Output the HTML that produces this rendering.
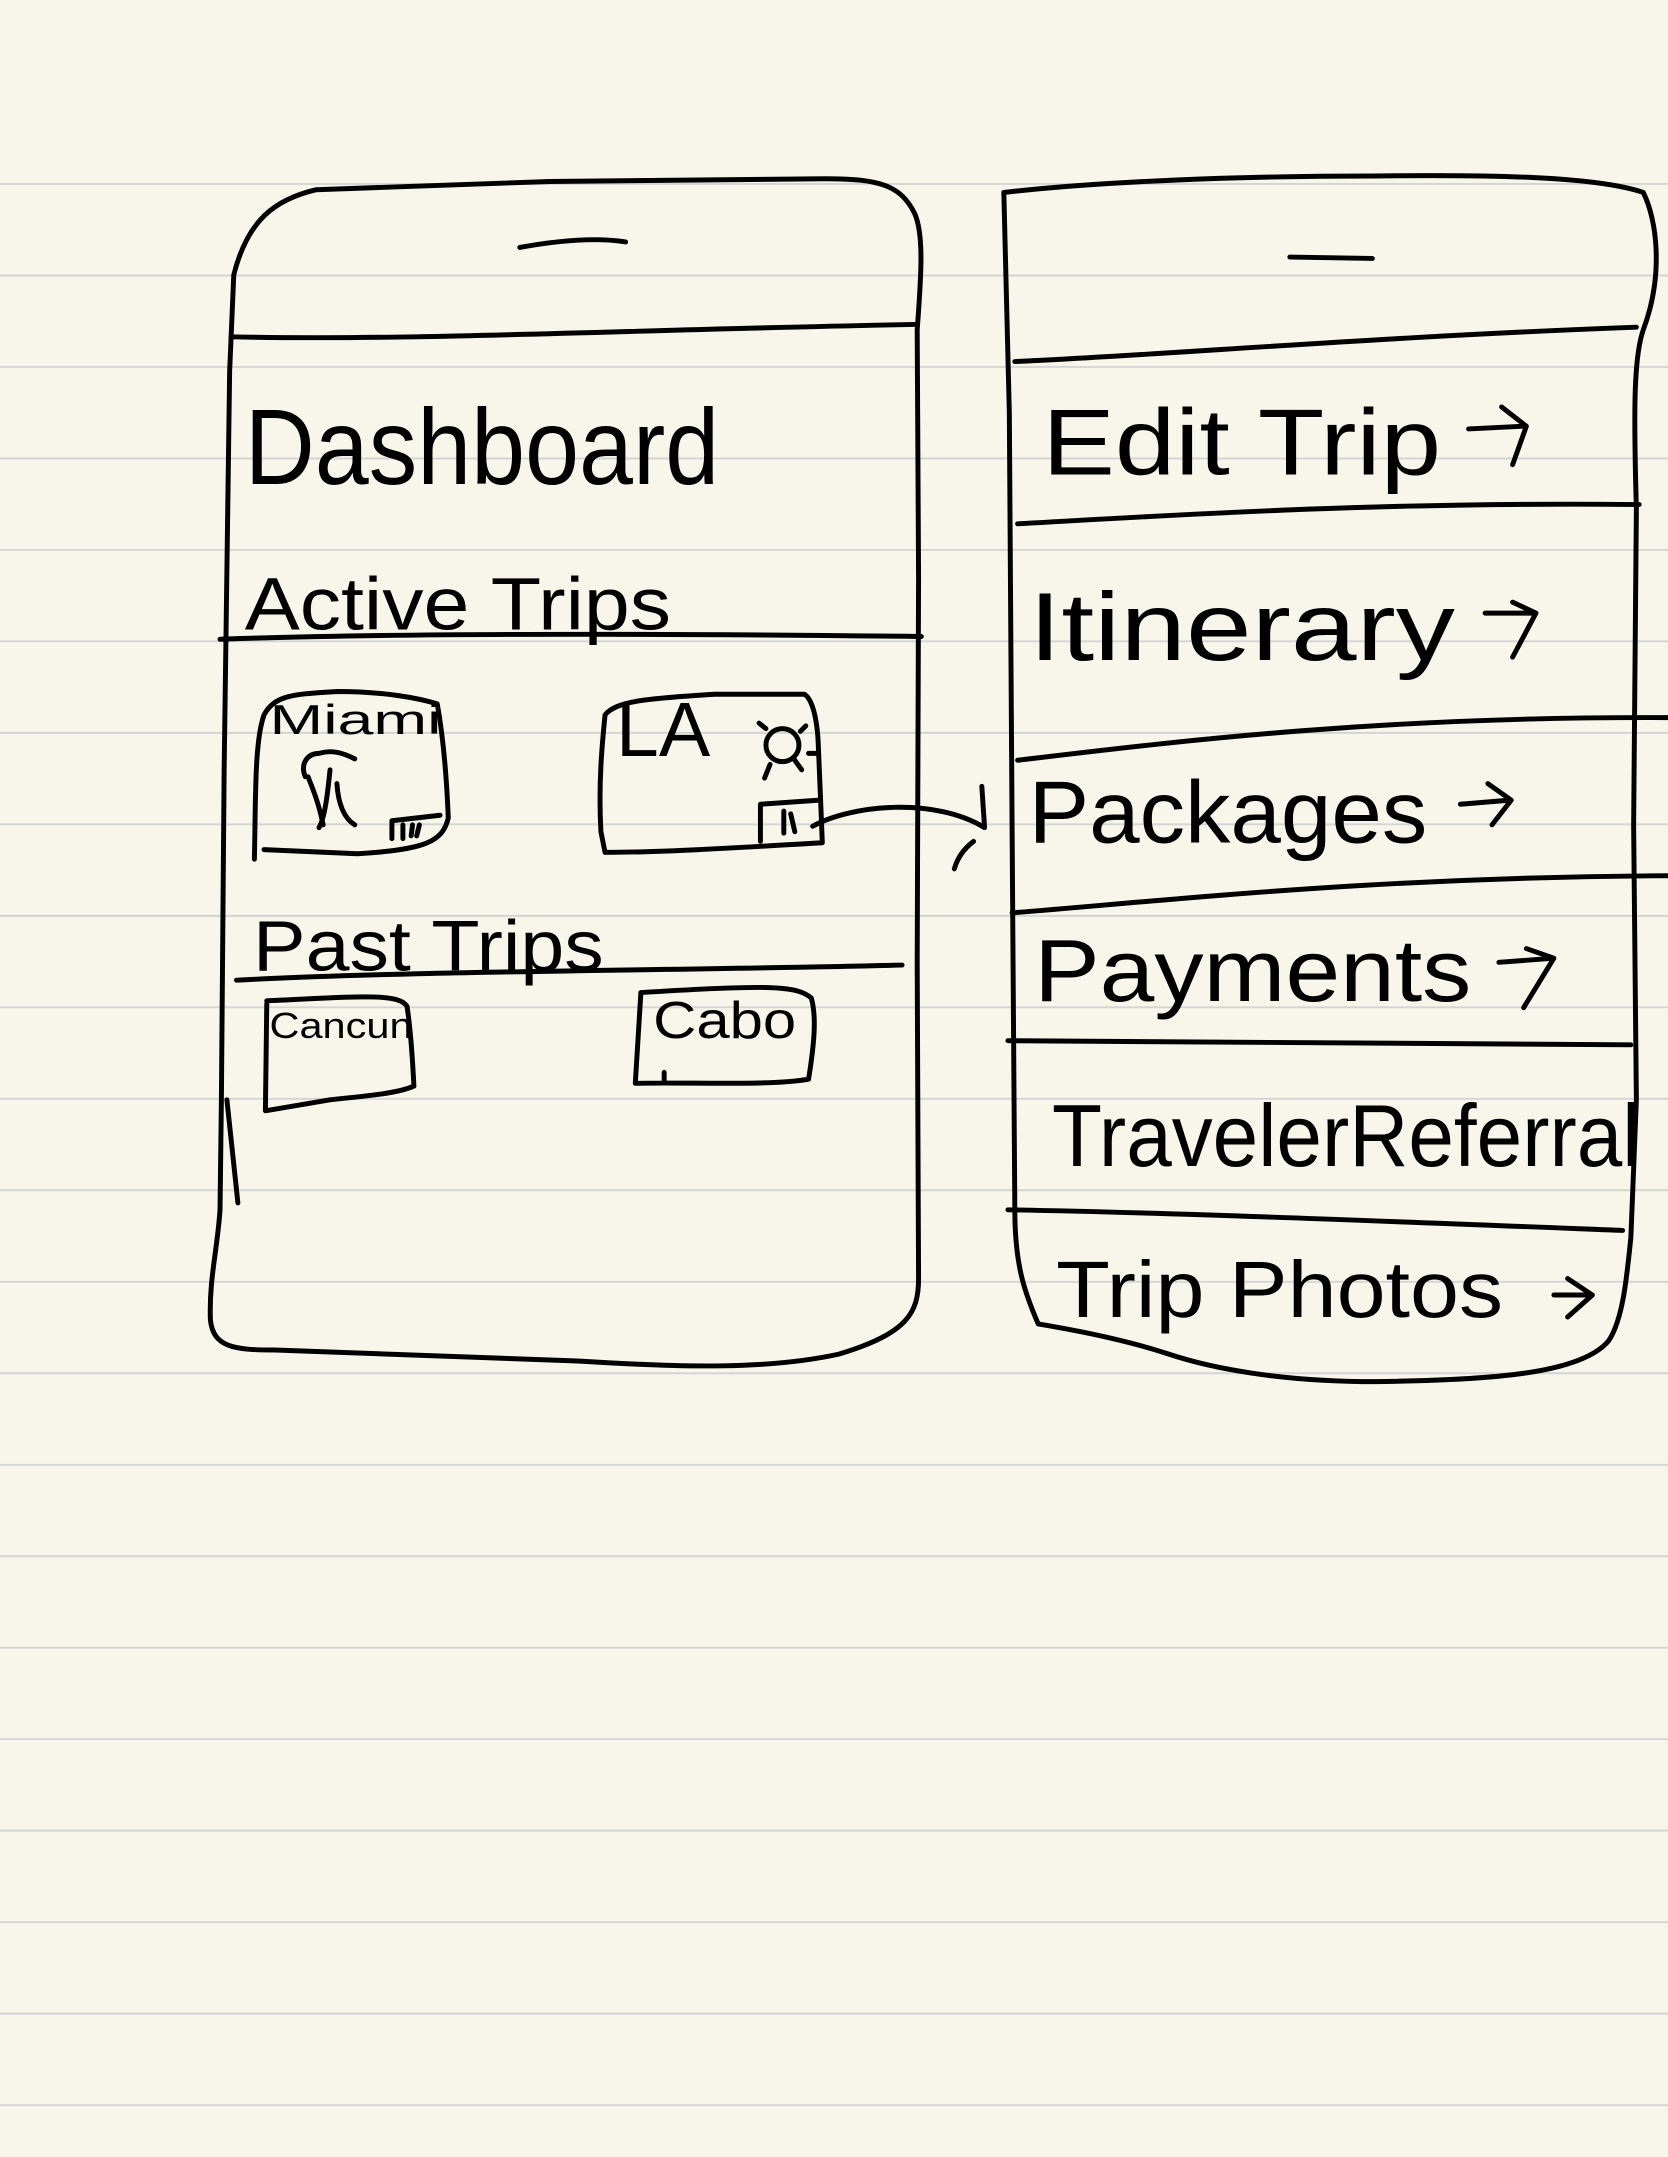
<!DOCTYPE html>
<html><head><style>
html,body{margin:0;padding:0;}
body{width:1668px;height:2157px;overflow:hidden;background:#f8f6ea;}
svg{display:block}
text{font-family:"Liberation Sans",sans-serif;fill:#000;font-weight:normal;}
</style></head><body>
<svg width="1668" height="2157" viewBox="0 0 1213 1569" preserveAspectRatio="none" xmlns="http://www.w3.org/2000/svg">
<g stroke="#d4d4d4" stroke-width="1.4">
<line x1="0" y1="133.8" x2="1213" y2="133.8"/><line x1="0" y1="200.4" x2="1213" y2="200.4"/><line x1="0" y1="266.9" x2="1213" y2="266.9"/><line x1="0" y1="333.5" x2="1213" y2="333.5"/><line x1="0" y1="400" x2="1213" y2="400"/><line x1="0" y1="466.5" x2="1213" y2="466.5"/><line x1="0" y1="533.1" x2="1213" y2="533.1"/><line x1="0" y1="599.6" x2="1213" y2="599.6"/><line x1="0" y1="666.2" x2="1213" y2="666.2"/><line x1="0" y1="732.7" x2="1213" y2="732.7"/><line x1="0" y1="799.3" x2="1213" y2="799.3"/><line x1="0" y1="865.8" x2="1213" y2="865.8"/><line x1="0" y1="932.4" x2="1213" y2="932.4"/><line x1="0" y1="998.9" x2="1213" y2="998.9"/><line x1="0" y1="1065.5" x2="1213" y2="1065.5"/><line x1="0" y1="1132" x2="1213" y2="1132"/><line x1="0" y1="1198.5" x2="1213" y2="1198.5"/><line x1="0" y1="1265.1" x2="1213" y2="1265.1"/><line x1="0" y1="1331.6" x2="1213" y2="1331.6"/><line x1="0" y1="1398.2" x2="1213" y2="1398.2"/><line x1="0" y1="1464.7" x2="1213" y2="1464.7"/><line x1="0" y1="1531.3" x2="1213" y2="1531.3"/>
</g>
<g fill="none" stroke="#000" stroke-width="3.6" stroke-linecap="round" stroke-linejoin="round">
<path d="M230,138 C200,145 180,160 170,200 L167,270 L163,560 L161,800 L160,880 C158,910 152,930 153,960 C155,980 170,982 200,982 L420,990 C500,995 560,996 610,985 C660,970 668,955 668,930 L667,700 L668,420 L667,240 C670,200 672,170 665,155 C655,135 640,130 600,130 L400,132 Z"/>
<path d="M168,245 C300,248 450,240 665,236"/>
<path d="M378,180 C400,176 430,172 455,176"/>
<path d="M160,465 C300,460 500,461 670,463"/>
<path d="M172,713 C300,706 500,706 656,702"/>
<path d="M165,800 L173,875"/>
<path d="M185,625 C186,580 185,540 192,520 C200,505 215,505 245,503 C280,503 305,508 318,512 C323,540 325,570 326,595 C322,612 310,618 260,621 L192,618"/>
<path d="M285,597 L285,610 M285,597 L320,593 M293,600 L293,610 M300,600 L299,608 M305,600 L303,608"/>
<path d="M235,600 C232,585 228,575 224,565 M222,565 C218,555 224,548 232,548 C242,545 250,548 258,552 M240,560 C238,580 236,595 232,602 M245,570 C246,585 250,595 258,600"/>
<path d="M440,520 C438,540 435,570 437,605 L440,620 C480,620 530,617 598,613 C597,590 596,560 595,540 C594,520 590,508 585,505 L520,505 C470,508 448,510 440,520"/>
<path d="M553,585 L553,612 M553,585 L596,582 M570,590 L570,606 M575,592 L578,605"/>
<circle cx="569" cy="542" r="12"/>
<path d="M560,556 L556,566 M578,553 L583,560 M557,530 L552,526 M582,532 L586,528 M588,548 L594,548"/>
<path d="M591,601 C620,585 680,580 716,602 M714,572 L716,602 M708,612 C700,618 696,625 694,632"/>
<path d="M194,730 L193,808 L240,800 C270,797 290,795 301,790 C300,770 298,745 296,732 C290,722 260,725 194,728"/>
<path d="M466,723 L462,788 C500,787 560,790 588,785 C592,760 594,740 590,726 C580,717 560,716 466,722 M483,780 L483,787"/>
<path d="M730,140 C800,132 900,128 1000,128 C1080,127 1160,128 1195,140 C1205,160 1210,200 1195,240 C1188,260 1188,300 1190,370 L1188,600 L1190,800 L1186,900 C1183,930 1180,960 1170,975 C1150,1000 1080,1004 1000,1005 C930,1005 880,995 850,985 C820,975 785,968 755,963 C745,940 738,920 738,880 L736,600 L734,300 Z"/>
<path d="M938,187 L998,188"/>
<path d="M738,263 C850,258 1000,245 1190,238"/>
<path d="M740,381 C850,375 1000,365 1192,367"/>
<path d="M740,553 C850,540 1000,521 1213,522"/>
<path d="M736,664 C850,655 1000,638 1213,637"/>
<path d="M733,757 C850,758 1000,760 1186,760"/>
<path d="M733,880 C850,882 1000,888 1180,895"/>
<path d="M1068,312 L1108,310 M1092,296 L1110,310 L1100,338"/>
<path d="M1080,446 L1117,446 M1100,438 L1117,446 L1100,478"/>
<path d="M1062,585 L1098,582 M1082,570 L1099,582 L1085,600"/>
<path d="M1090,700 L1130,697 M1110,690 L1130,697 L1108,733"/>
<path d="M1130,942 L1158,942 M1140,930 L1158,942 L1140,958"/>
</g>
<g>
<text x="178" y="352" font-size="78" textLength="345" lengthAdjust="spacingAndGlyphs">Dashboard</text>
<text x="178" y="458" font-size="54" textLength="310" lengthAdjust="spacingAndGlyphs">Active Trips</text>
<text x="196" y="534" font-size="30" textLength="125" lengthAdjust="spacingAndGlyphs">Miami</text>
<text x="448" y="550" font-size="56">LA</text>
<text x="184" y="706" font-size="52" textLength="255" lengthAdjust="spacingAndGlyphs">Past Trips</text>
<text x="196" y="755" font-size="26" textLength="104" lengthAdjust="spacingAndGlyphs">Cancun</text>
<text x="475" y="755" font-size="38" textLength="104" lengthAdjust="spacingAndGlyphs">Cabo</text>
<text x="758" y="345" font-size="68" textLength="290" lengthAdjust="spacingAndGlyphs">Edit Trip</text>
<text x="748" y="480" font-size="70" textLength="310" lengthAdjust="spacingAndGlyphs">Itinerary</text>
<text x="748" y="613" font-size="64" textLength="290" lengthAdjust="spacingAndGlyphs">Packages</text>
<text x="752" y="728" font-size="64" textLength="318" lengthAdjust="spacingAndGlyphs">Payments</text>
<text x="765" y="848" font-size="64" textLength="428" lengthAdjust="spacingAndGlyphs">TravelerReferral</text>
<text x="768" y="958" font-size="58" textLength="325" lengthAdjust="spacingAndGlyphs">Trip Photos</text>
</g>
</svg>
</body></html>
